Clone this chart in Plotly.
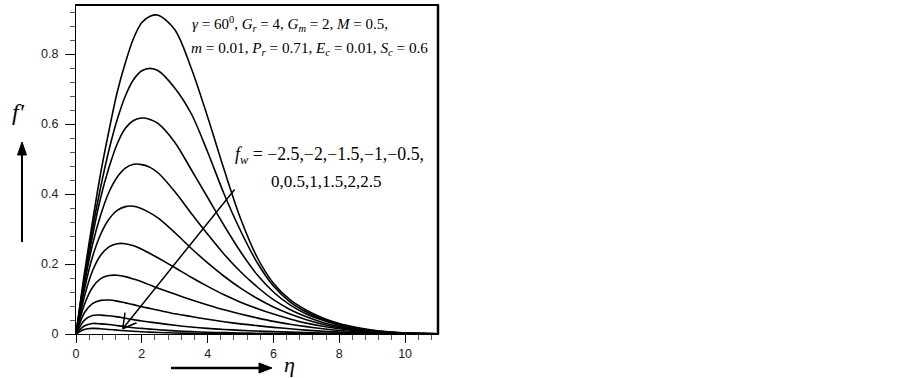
import plotly.graph_objects as go

# eta grid (x values)
eta = [0, 0.25, 0.5, 0.75, 1, 1.25, 1.5, 1.75, 2, 2.25, 2.5, 3, 3.5, 4, 4.5, 5,
       5.5, 6, 6.5, 7, 7.5, 8, 8.5, 9, 9.5, 10, 10.5, 11]

# suction/injection parameter values
fw_values = [-2.5, -2, -1.5, -1, -0.5, 0, 0.5, 1, 1.5, 2, 2.5]

# f'(eta) for each fw
fp_m2_5 = [0, 0.17, 0.32, 0.46, 0.58, 0.69, 0.775, 0.845, 0.89, 0.908, 0.911, 0.87, 0.76, 0.62,
           0.47, 0.33, 0.22, 0.145, 0.098, 0.068, 0.046, 0.030, 0.019, 0.011, 0.006, 0.003, 0.0015, 0.0005]
fp_m2 = [0, 0.16, 0.30, 0.42, 0.525, 0.612, 0.68, 0.727, 0.752, 0.759, 0.752, 0.703, 0.63, 0.52,
         0.40, 0.295, 0.205, 0.137, 0.092, 0.063, 0.043, 0.028, 0.017, 0.010, 0.0055, 0.003, 0.0015, 0.0005]
fp_m1_5 = [0, 0.15, 0.28, 0.39, 0.475, 0.543, 0.588, 0.61, 0.617, 0.613, 0.601, 0.548, 0.47, 0.39,
           0.31, 0.235, 0.17, 0.12, 0.083, 0.057, 0.039, 0.025, 0.015, 0.009, 0.005, 0.0025, 0.0012, 0.0004]
fp_m1 = [0, 0.14, 0.255, 0.34, 0.405, 0.448, 0.474, 0.485, 0.484, 0.476, 0.46, 0.407, 0.345, 0.285,
         0.228, 0.178, 0.135, 0.098, 0.070, 0.049, 0.033, 0.021, 0.013, 0.008, 0.0045, 0.0022, 0.001, 0.0003]
fp_m0_5 = [0, 0.125, 0.22, 0.285, 0.328, 0.353, 0.364, 0.365, 0.358, 0.346, 0.331, 0.29, 0.245, 0.203,
           0.165, 0.131, 0.102, 0.077, 0.057, 0.041, 0.028, 0.018, 0.011, 0.0065, 0.0038, 0.002, 0.001, 0.0003]
fp_0 = [0, 0.105, 0.18, 0.225, 0.249, 0.258, 0.258, 0.252, 0.242, 0.23, 0.217, 0.19, 0.162, 0.136,
        0.112, 0.091, 0.073, 0.057, 0.043, 0.031, 0.022, 0.015, 0.0095, 0.0058, 0.0035, 0.002, 0.001, 0.0003]
fp_0_5 = [0, 0.083, 0.133, 0.158, 0.167, 0.168, 0.164, 0.157, 0.149, 0.14, 0.131, 0.114, 0.098, 0.083,
          0.069, 0.057, 0.046, 0.036, 0.028, 0.021, 0.015, 0.010, 0.0065, 0.004, 0.0025, 0.0015, 0.0008, 0.0003]
fp_1 = [0, 0.06, 0.087, 0.096, 0.097, 0.094, 0.089, 0.084, 0.078, 0.073, 0.068, 0.058, 0.05, 0.042,
        0.035, 0.029, 0.024, 0.019, 0.015, 0.011, 0.008, 0.0055, 0.0037, 0.0024, 0.0015, 0.001, 0.0005, 0.0002]
fp_1_5 = [0, 0.039, 0.053, 0.054, 0.052, 0.049, 0.045, 0.041, 0.037, 0.034, 0.031, 0.025, 0.02, 0.016,
          0.013, 0.0105, 0.0085, 0.0068, 0.0053, 0.004, 0.003, 0.0022, 0.0015, 0.001, 0.0007, 0.0004, 0.0002, 0.0001]
fp_2 = [0, 0.023, 0.030, 0.029, 0.027, 0.024, 0.021, 0.018, 0.016, 0.014, 0.012, 0.009, 0.0068, 0.005,
        0.0038, 0.0028, 0.002, 0.0015, 0.0011, 0.0008, 0.0006, 0.0004, 0.0003, 0.0002, 0.0001, 0.0001, 0, 0]
fp_2_5 = [0, 0.013, 0.016, 0.015, 0.013, 0.011, 0.0093, 0.0078, 0.0065, 0.0054, 0.0045, 0.003, 0.002, 0.0013,
          0.0009, 0.0006, 0.0004, 0.0003, 0.0002, 0.00015, 0.0001, 0.0001, 0, 0, 0, 0, 0, 0]

series = [fp_m2_5, fp_m2, fp_m1_5, fp_m1, fp_m0_5, fp_0, fp_0_5, fp_1, fp_1_5, fp_2, fp_2_5]

x_ticks = [0, 2, 4, 6, 8, 10]
y_ticks = [0, 0.2, 0.4, 0.6, 0.8]

L, R, T, B = 76, 438, 5, 334
W, H = 903, 378


def X(px):
    return (px - L) / (R - L)


def Y(py):
    return (B - py) / (B - T)


fig = go.Figure()
for fw, ys in zip(fw_values, series):
    fig.add_trace(go.Scatter(x=eta, y=ys, mode="lines", name=f"fw={fw}",
                             line=dict(color="black", width=1.6, shape="spline", smoothing=0.9),
                             showlegend=False, hoverinfo="skip"))

tickfont = dict(family="Liberation Sans, Arial, sans-serif", size=12.5, color="#222")
fig.update_xaxes(range=[0, 11], tickvals=x_ticks, ticks="outside", ticklen=8, tickwidth=1.2,
                 tickcolor="black", showline=True, linecolor="black", linewidth=1.2, mirror=True,
                 showgrid=False, zeroline=False, tickfont=tickfont,
                 minor=dict(dtick=0.4, tick0=0, ticks="outside", ticklen=5, tickcolor="#555", tickwidth=1))
fig.update_yaxes(range=[0, 0.94], tickvals=y_ticks, ticks="outside", ticklen=10, tickwidth=1.2,
                 tickcolor="black", showline=True, linecolor="black", linewidth=1.2, mirror=True,
                 showgrid=False, zeroline=False, tickfont=tickfont, ticklabelstandoff=4,
                 minor=dict(dtick=0.04, tick0=0, ticks="outside", ticklen=5, tickcolor="#555", tickwidth=1))

serif = "Liberation Serif, Times New Roman, serif"
sp = "&nbsp;"
annots = [
    dict(text=f"<i>γ</i>{sp}={sp}60<sup>0</sup>, <i>G<sub>r</sub></i>{sp}={sp}4, <i>G<sub>m</sub></i>{sp}={sp}2, <i>M</i>{sp}={sp}0.5,",
         x=X(190), y=Y(24), size=15),
    dict(text=f"<i>m</i>{sp}={sp}0.01, <i>P<sub>r</sub></i>{sp}={sp}0.71, <i>E<sub>c</sub></i>{sp}={sp}0.01, <i>S<sub>c</sub></i>{sp}={sp}0.6",
         x=X(189), y=Y(48), size=15.2),
    dict(text=f"<i>f<sub>w</sub></i>{sp}={sp}−2.5,−2,−1.5,−1,−0.5,",
         x=X(233), y=Y(155), size=17.8),
    dict(text="0,0.5,1,1.5,2,2.5",
         x=X(269), y=Y(182), size=17),
]
for a in annots:
    fig.add_annotation(text=a["text"], x=a["x"], y=a["y"], xref="paper", yref="paper",
                       xanchor="left", yanchor="middle", showarrow=False,
                       font=dict(family=serif, size=a["size"], color="black"))

fig.add_annotation(text="<i>f′</i>", x=X(18), y=Y(112), xref="paper", yref="paper",
                   xanchor="center", yanchor="middle", showarrow=False,
                   font=dict(family=serif, size=24, color="black"))
fig.add_annotation(text="<i>η</i>", x=X(289), y=Y(364), xref="paper", yref="paper",
                   xanchor="center", yanchor="middle", showarrow=False,
                   font=dict(family=serif, size=22, color="black"))

# vertical arrow beside f'
fig.add_shape(type="line", xref="paper", yref="paper", x0=X(22), y0=Y(242), x1=X(22), y1=Y(152),
              line=dict(color="black", width=2))
fig.add_shape(type="path", xref="paper", yref="paper",
              path=f"M{X(17.5)},{Y(155)} L{X(22)},{Y(142)} L{X(26.5)},{Y(155)} Z",
              fillcolor="black", line=dict(color="black", width=1))
# horizontal arrow beside eta
fig.add_shape(type="line", xref="paper", yref="paper", x0=X(171), y0=Y(368), x1=X(262), y1=Y(368),
              line=dict(color="black", width=2.5))
fig.add_shape(type="path", xref="paper", yref="paper",
              path=f"M{X(259)},{Y(363)} L{X(272)},{Y(368)} L{X(259)},{Y(373)} Z",
              fillcolor="black", line=dict(color="black", width=1))

# diagonal arrow (direction of increasing fw) with open head
tip = (1.42, 0.015)
tail = (4.82, 0.413)
barb1 = (1.49, 0.061)
barb2 = (1.84, 0.032)
for p in [tail, barb1, barb2]:
    fig.add_shape(type="line", xref="x", yref="y", x0=p[0], y0=p[1], x1=tip[0], y1=tip[1],
                  line=dict(color="black", width=1.5))

# thicker top and right frame
fig.add_shape(type="line", xref="paper", yref="paper", x0=0, y0=1, x1=1, y1=1,
              line=dict(color="black", width=2))
fig.add_shape(type="line", xref="paper", yref="paper", x0=1, y0=0, x1=1, y1=1,
              line=dict(color="black", width=2.5))

fig.update_layout(width=W, height=H, margin=dict(l=L, r=W - R, t=T, b=H - B),
                  paper_bgcolor="white", plot_bgcolor="white")

fig.write_html("out.html", config={"displayModeBar": False},
               post_script="document.body.style.margin='0px';")
